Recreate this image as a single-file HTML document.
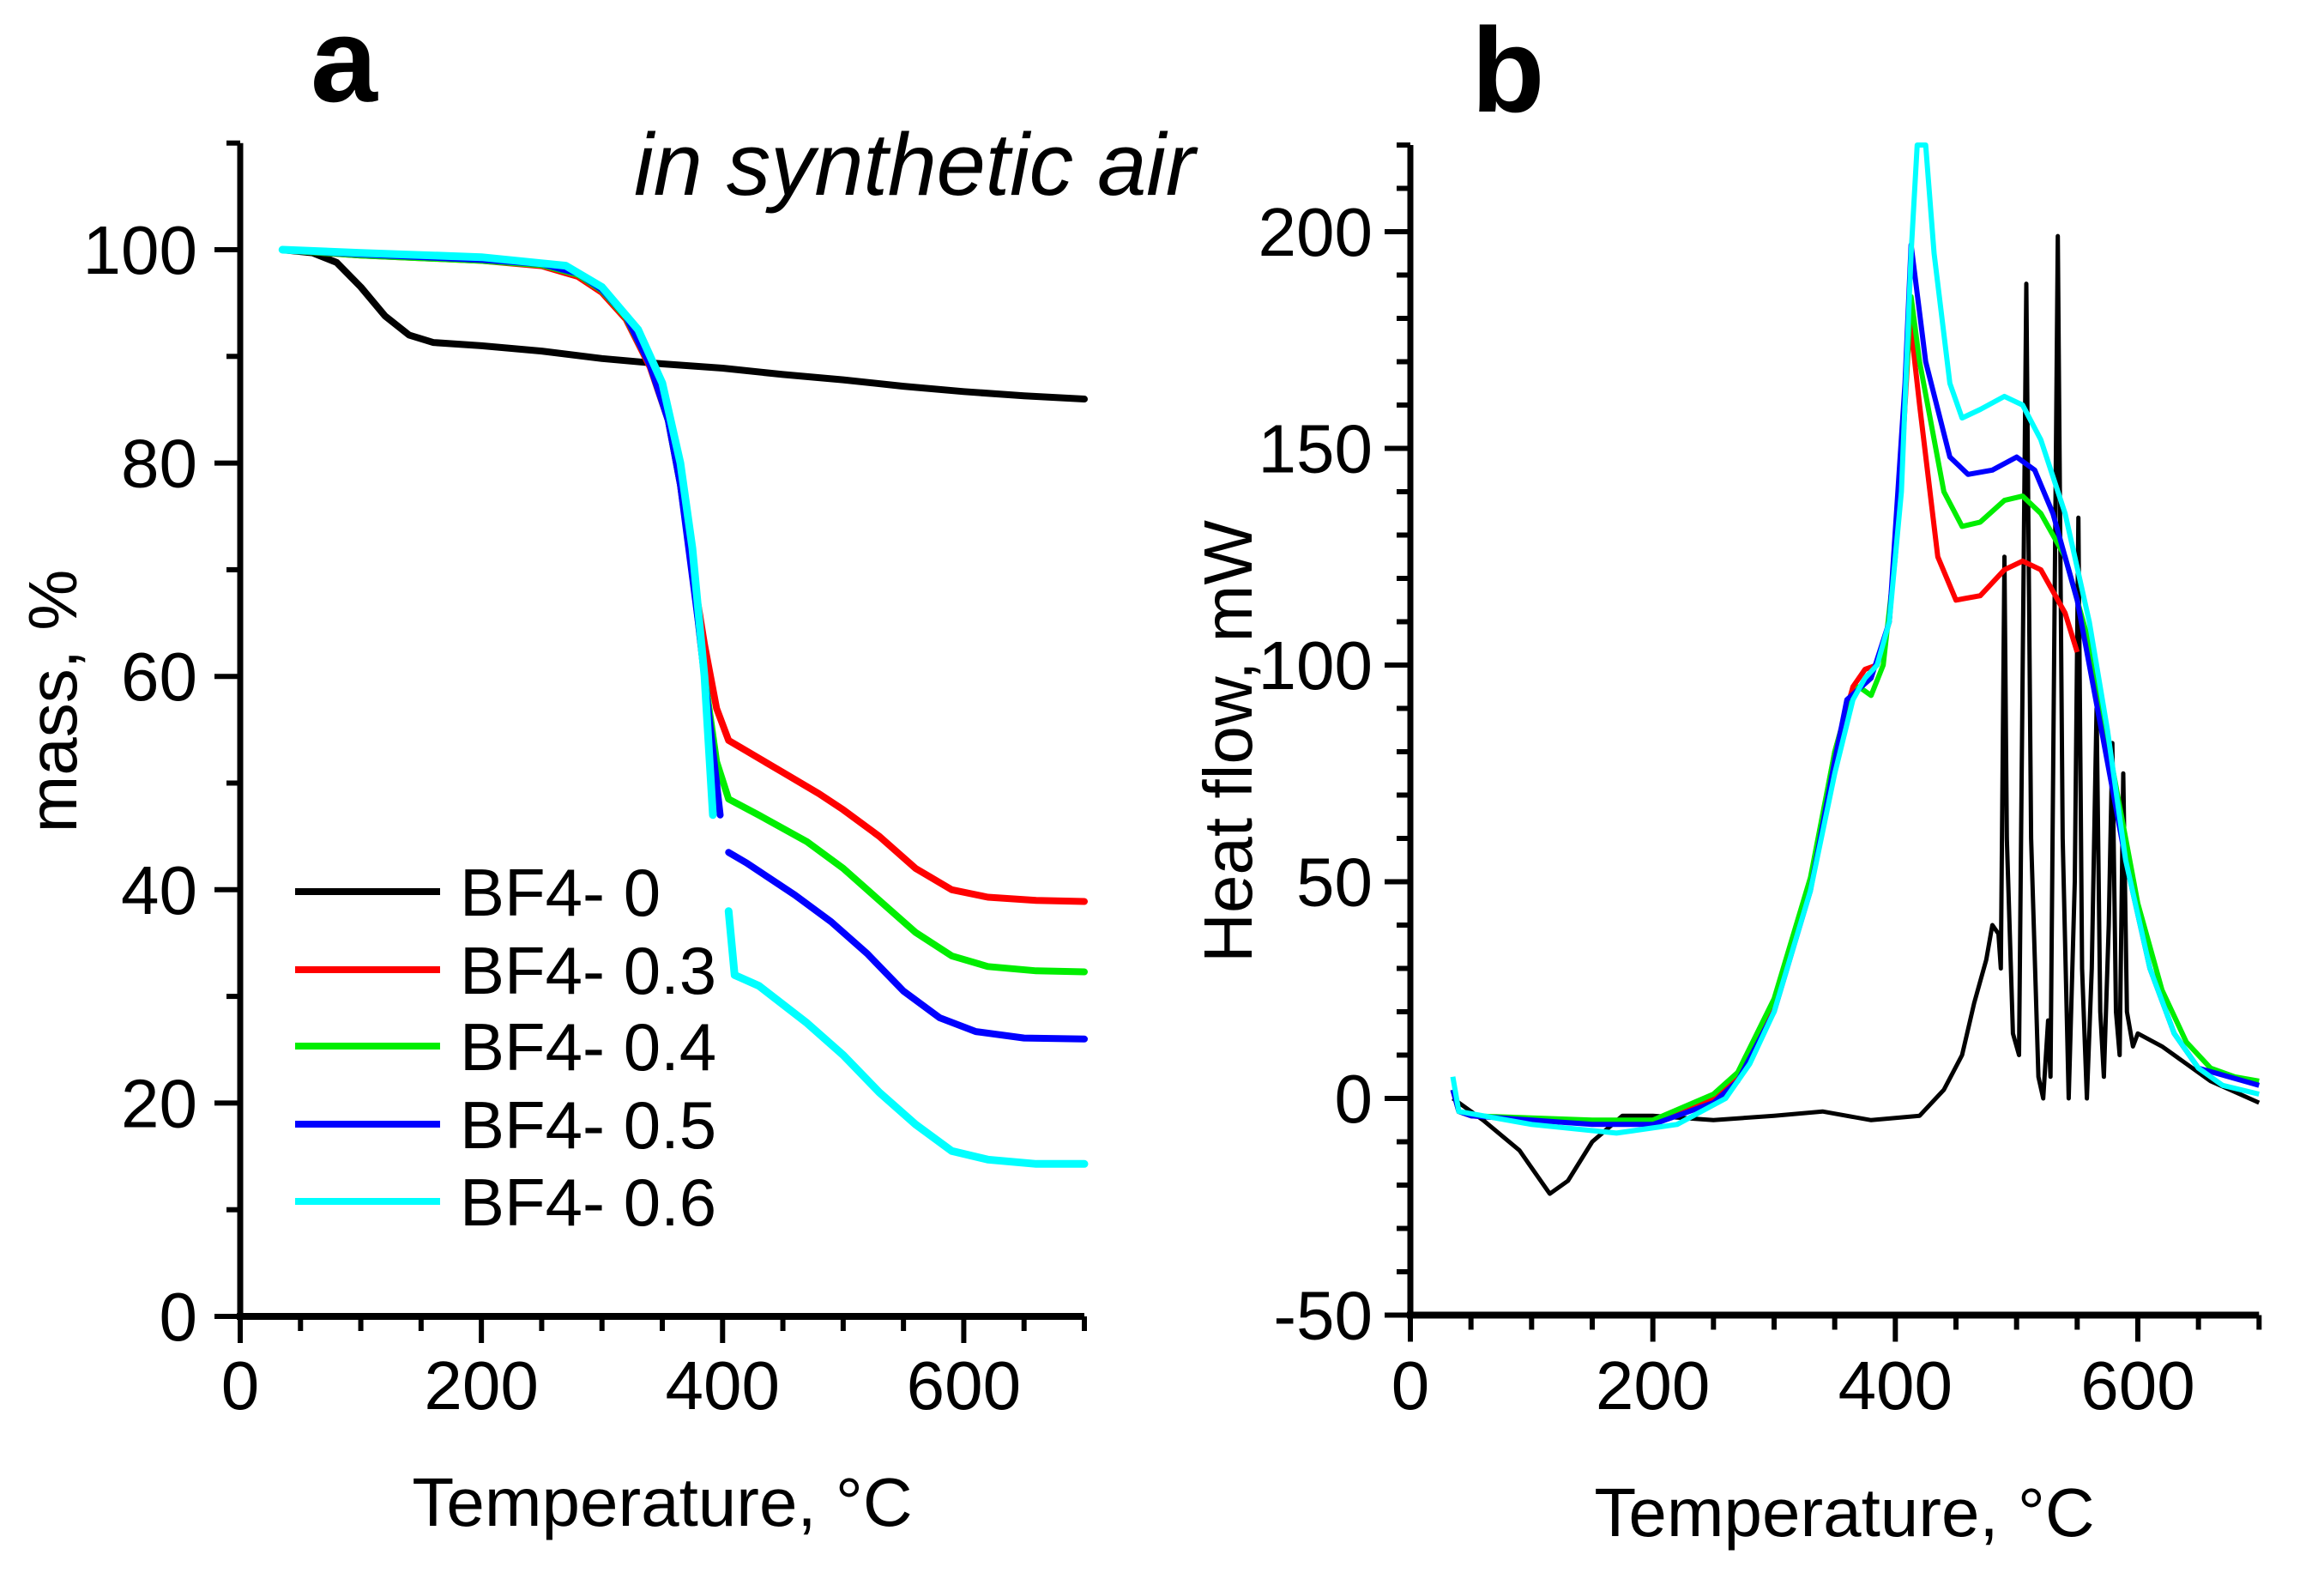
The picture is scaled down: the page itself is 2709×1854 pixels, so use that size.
<!DOCTYPE html>
<html><head><meta charset="utf-8"><style>
html,body{margin:0;padding:0;background:#fff}
svg{display:block;font-family:"Liberation Sans",Arial,sans-serif}
</style></head><body>
<svg id="fig" width="2709" height="1854" viewBox="0 0 2709 1854" xmlns="http://www.w3.org/2000/svg">
<rect width="2709" height="1854" fill="#fff"/>
<g id="pa"></g>
<g id="pb"></g>
</svg>
<script>
// ---------- Panel a data (Temperature °C, mass %) ----------
const seriesNames = ["BF4- 0","BF4- 0.3","BF4- 0.4","BF4- 0.5","BF4- 0.6"];
const seriesColors = ["#000000","#ff0000","#00ee00","#0000ff","#00ffff"];
const aT0 = [35,60,80,100,120,140,160,200,250,300,350,400,450,500,550,600,650,700];
const aM0 = [100,99.7,98.8,96.5,93.8,92,91.3,91,90.5,89.8,89.3,88.9,88.3,87.8,87.2,86.7,86.3,86];
const aT3 = [35,100,200,250,280,300,320,340,355,365,375,385,395,405,420,450,480,500,530,560,590,620,660,700];
const aM3 = [100,99.5,99,98.5,97.5,96,93.5,89,84,78,70,63,57,54,53,51,49,47.5,45,42,40,39.3,39,38.9];
const aT4 = [35,100,200,250,280,300,320,340,355,365,375,385,395,405,430,470,500,530,560,590,620,660,700];
const aM4 = [100,99.5,99,98.6,97.7,96.2,93.7,89.2,84,78,70,60,52,48.5,47,44.5,42,39,36,33.8,32.8,32.4,32.3];
const aT5 = [35,100,200,250,280,300,320,340,355,365,380,390,398,null,405,420,460,490,520,550,580,610,650,700];
const aM5 = [100,99.6,99.1,98.7,97.8,96.3,93.8,89.2,84,78,65,55,47,null,43.5,42.5,39.5,37,34,30.5,28,26.7,26.1,26];
const aT6 = [35,100,200,270,300,330,350,365,375,385,392,null,405,410,430,470,500,530,560,590,620,660,700];
const aM6 = [100,99.7,99.3,98.5,96.5,92.5,87.5,80,72,60,47,null,38,32,31,27.5,24.5,21,18,15.5,14.7,14.3,14.3];
const aXTicks = [0,200,400,600];
const aYTicks = [0,20,40,60,80,100];

// ---------- Panel b data (Temperature °C, heat flow mW) ----------
const bT0 = [35,60,90,115,130,150,175,200,250,300,340,380,420,440,455,465,475,480,485,487,490,492,497,502,508,512,518,522,526,528,534,538,543,548,551,554,558,562,566,569,572,576,579,582,585,588,591,596,600,620,640,660,700];
const bH0 = [0,-5,-12,-22,-19,-10,-4,-4,-5,-4,-3,-5,-4,2,10,22,32,40,38,30,125,60,15,10,188,60,5,0,18,5,199,60,0,50,134,30,0,30,90,20,5,40,82,20,10,75,20,12,15,12,8,4,-1];
const bT3 = [35,40,50,100,150,200,250,270,300,330,350,365,375,385,395,405,412,420,435,450,470,490,505,520,540,550];
const bH3 = [2,-3,-4,-5,-5.5,-5,0,5,22,50,80,95,99,100,110,145,180,160,125,115,116,122,124,122,112,103];
const bT4 = [35,40,50,100,150,200,250,270,300,330,350,360,370,380,390,400,413,420,440,455,470,490,505,520,540,560,580,600,620,640,660,680,700];
const bH4 = [2,-3,-4,-4.5,-5,-5,1,6,23,51,80,90,95,93,100,125,185,170,140,132,133,138,139,135,125,105,75,45,25,13,7,5,4];
const bT5 = [35,40,50,100,150,200,250,270,300,330,350,360,380,395,408,413,425,445,460,480,500,515,530,550,570,590,610,630,650,700];
const bH5 = [2,-3,-4,-5,-6,-6,-1,4,20,48,78,92,97,110,165,197,170,148,144,145,148,145,135,115,85,55,30,15,7,3];
const bT6 = [35,40,100,170,220,260,280,300,330,350,365,375,385,395,405,413,418,425,432,445,455,470,490,505,520,540,560,575,590,610,630,650,670,700];
const bH6 = [5,-3,-6,-8,-6,0,8,20,48,75,92,97,100,110,140,195,220,220,195,165,157,159,162,160,152,135,110,85,55,30,15,7,3,1];
const bXTicks = [0,200,400,600];
const bYTicks = [-50,0,50,100,150,200];

const NS="http://www.w3.org/2000/svg";
function mk(tag,attrs,parent){const e=document.createElementNS(NS,tag);for(const k in attrs)e.setAttribute(k,attrs[k]);parent.appendChild(e);return e;}
function path(xs,ys,fx,fy){let d="",pen=false;for(let i=0;i<xs.length;i++){if(xs[i]===null){pen=false;continue;}d+=(pen?"L":"M")+fx(xs[i]).toFixed(1)+","+fy(ys[i]).toFixed(1);pen=true;}return d;}

// Panel a scales
const xa=t=>280+t*1.4057, ya=m=>1534-m*12.43;
// Panel b scales
const xb=t=>1644+t*1.4133, yb=h=>1280-h*5.05;

function axes(g,fx,fy,xmin,xmax,ymin,ymax,xMinorStep,yMinorStep,xTicks,yTicks,labelRight){
  const ax=mk('line',{x1:fx(xmin)-4,y1:fy(ymin),x2:fx(xmax),y2:fy(ymin),stroke:'#000','stroke-width':8},g);
  
  const ay=mk('line',{x1:fx(xmin),y1:fy(ymin)+4,x2:fx(xmin),y2:fy(ymax),stroke:'#000','stroke-width':7},g);
  
  for(let t=xmin;t<=xmax+0.01;t+=xMinorStep){
    const major=xTicks.includes(t);
    const l=mk('line',{x1:fx(t),y1:fy(ymin),x2:fx(t),y2:fy(ymin)+(major?31:17),stroke:'#000','stroke-width':6},g);
    
  }
  for(let v=ymin;v<=ymax+0.01;v+=yMinorStep){
    const major=yTicks.includes(v);
    const l=mk('line',{x1:fx(xmin),y1:fy(v),x2:fx(xmin)-(major?30:16),y2:fy(v),stroke:'#000','stroke-width':6},g);
    
  }
  xTicks.forEach(t=>{const e=mk('text',{x:fx(t),y:1642,'font-size':80,'text-anchor':'middle'},g);e.textContent=t;
    });
  yTicks.forEach(v=>{const e=mk('text',{x:labelRight,y:fy(v)+28,'font-size':80,'text-anchor':'end'},g);e.textContent=v;
    });
}

const ga=document.getElementById('pa'), gb=document.getElementById('pb');
axes(ga,xa,ya,0,700,0,110,50,10,aXTicks,aYTicks,230);
axes(gb,xb,yb,0,700,-50,220,50,10,bXTicks,bYTicks,1600);

const aSets=[[aT0,aM0],[aT3,aM3],[aT4,aM4],[aT5,aM5],[aT6,aM6]];
aSets.forEach((s,i)=>{const p=mk('path',{d:path(s[0],s[1],xa,ya),fill:'none',stroke:seriesColors[i],'stroke-width':i==4?9:8,'stroke-linejoin':'round','stroke-linecap':'round'},ga);
  });
const bSets=[[bT0,bH0],[bT3,bH3],[bT4,bH4],[bT5,bH5],[bT6,bH6]];
const order=[0,1,2,3,4];
order.forEach(i=>{const s=bSets[i];const p=mk('path',{d:path(s[0],s[1],xb,yb),fill:'none',stroke:seriesColors[i],'stroke-width':i==0?5:6,'stroke-linejoin':'round'},gb);
  });

// legend
const legY=[1039,1130,1219,1310,1400];
seriesNames.forEach((n,i)=>{
  const l=mk('line',{x1:344,y1:legY[i],x2:513,y2:legY[i],stroke:seriesColors[i],'stroke-width':8},ga);
  
  const t=mk('text',{x:536,y:legY[i]+28,'font-size':78},ga);t.textContent=n;
  
});
</script>
<svg width="0" height="0" style="position:absolute"></svg>
<script>
const fig=document.getElementById('fig');
function txt(attrs,content,name){const e=document.createElementNS("http://www.w3.org/2000/svg",'text');for(const k in attrs)e.setAttribute(k,attrs[k]);e.textContent=content;
  
  
  fig.appendChild(e);}
txt({x:362,y:118,'font-size':140,'font-weight':'bold'},'a','panel-a-label');
txt({x:1715,y:130,'font-size':140,'font-weight':'bold'},'b','panel-b-label');
txt({x:739,y:227,'font-size':103,'font-style':'italic',textLength:654},'in synthetic air','condition-annotation');
txt({x:772,y:1778,'font-size':80,'text-anchor':'middle'},'Temperature, °C','x-axis-title-a');
txt({x:2150,y:1790,'font-size':80,'text-anchor':'middle'},'Temperature, °C','x-axis-title-b');
txt({x:0,y:0,'font-size':80,'text-anchor':'middle',transform:'translate(89,817) rotate(-90)'},'mass, %','y-axis-title-a');
txt({x:0,y:0,'font-size':80,'text-anchor':'middle',transform:'translate(1459,864) rotate(-90)','xml:space':'preserve'},'Heat flow,  mW','y-axis-title-b');
</script>
</body></html>
